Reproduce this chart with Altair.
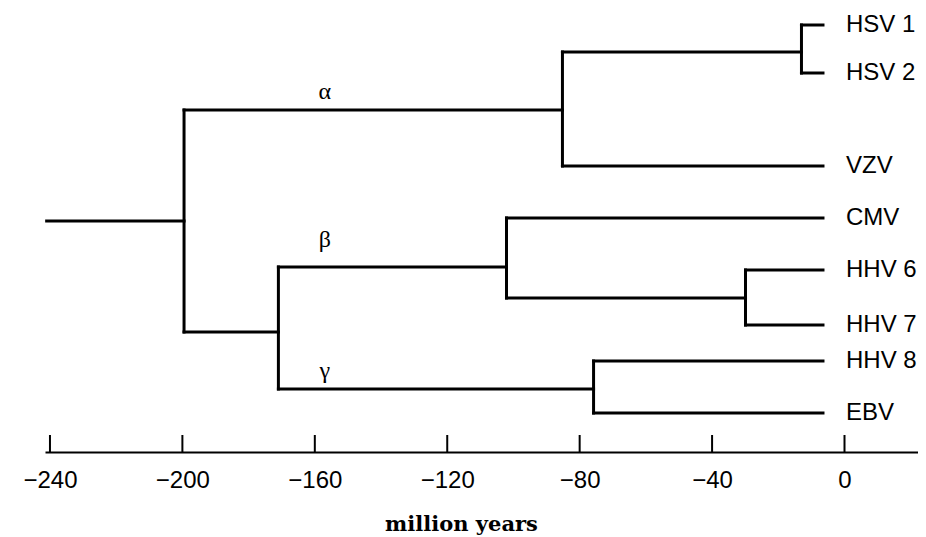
import altair as alt
import pandas as pd

# ---- data ----
leaf_names = ["HSV 1", "HSV 2", "VZV", "CMV", "HHV 6", "HHV 7", "HHV 8", "EBV"]
leaf_rows = [17, 65, 158, 210, 262, 317, 353, 405]      # vertical row position (top = 0)
leaf_tip = -6.5                                          # million years

node_names = ["root", "alpha", "HSV", "betagamma", "beta", "HHV67", "gamma"]
node_age = [-199.5, -85.2, -13.0, -171.0, -102.1, -29.9, -75.8]
node_rows = [213, 102, 44, 324, 259, 290, 381]
node_children = [["alpha", "betagamma"], ["HSV", "VZV"], ["HSV 1", "HSV 2"],
                 ["beta", "gamma"], ["CMV", "HHV67"], ["HHV 6", "HHV 7"],
                 ["HHV 8", "EBV"]]
root_start = -241.0

greek_labels = ["α", "β", "γ"]
greek_age = [-157.0, -157.0, -157.0]
greek_rows = [84, 232, 363]

tick_values = [-240, -200, -160, -120, -80, -40, 0]

# ---- build segments ----
pos = {}
for n, a, r in zip(node_names, node_age, node_rows):
    pos[n] = (a, r)
for n, r in zip(leaf_names, leaf_rows):
    pos[n] = (leaf_tip, r)

segs = []
root_age, root_row = pos["root"]
segs.append(dict(x=root_start, x2=root_age, y=root_row, y2=root_row))
for n, kids in zip(node_names, node_children):
    a, r = pos[n]
    ys = [pos[k][1] for k in kids]
    segs.append(dict(x=a, x2=a, y=min(ys), y2=max(ys)))
    for k in kids:
        ka, kr = pos[k]
        segs.append(dict(x=a, x2=ka, y=kr, y2=kr))
seg_df = pd.DataFrame(segs)

leaf_df = pd.DataFrame(dict(name=leaf_names, x=[leaf_tip] * len(leaf_names), y=leaf_rows))
greek_df = pd.DataFrame(dict(name=greek_labels, x=greek_age, y=greek_rows))
tick_df = pd.DataFrame(dict(x=tick_values, y=[444] * len(tick_values), y2=[427] * len(tick_values)))

xscale = alt.Scale(domain=[-241.5, 22.2], nice=False, zero=False)
yscale = alt.Scale(domain=[0, 444], reverse=True, nice=False, zero=False)

xaxis = alt.Axis(values=tick_values, title="million years", grid=False, ticks=False,
                 tickSize=0, domain=True, domainColor="black", domainWidth=2,
                 labelFont="Liberation Sans", labelFontSize=24, labelColor="black",
                 labelPadding=16, labelFlush=False, labelOverlap=False,
                 titleFont="DejaVu Serif", titleFontWeight="bold", titleFontSize=21,
                 titleColor="black", titleX=416, titleY=72, titleAlign="center",
                 titleBaseline="middle")

X = alt.X("x:Q", scale=xscale, axis=xaxis)
Y = alt.Y("y:Q", scale=yscale, axis=None)

segments = alt.Chart(seg_df).mark_rule(color="black", strokeWidth=3, strokeCap="square").encode(
    x=X, x2="x2:Q", y=Y, y2="y2:Q",
)

ticks = alt.Chart(tick_df).mark_rule(color="black", strokeWidth=2).encode(
    x=X, y=Y, y2="y2:Q",
)

leaves = alt.Chart(leaf_df).mark_text(align="left", baseline="middle", dx=23,
                                      font="Liberation Sans", fontSize=24, color="black").encode(
    x=X, y=Y, text="name:N",
)

greek = alt.Chart(greek_df).mark_text(align="center", baseline="middle",
                                      font="Liberation Serif", fontSize=24, color="black").encode(
    x=X, y=Y, text="name:N",
)

chart = alt.layer(segments, ticks, leaves, greek).properties(
    width=873, height=444,
    padding={"left": 37, "top": 0, "right": 0, "bottom": 84},
    autosize="none",
).configure_view(stroke=None)

chart.save("out.html", embed_options={"renderer": "svg", "actions": False})
